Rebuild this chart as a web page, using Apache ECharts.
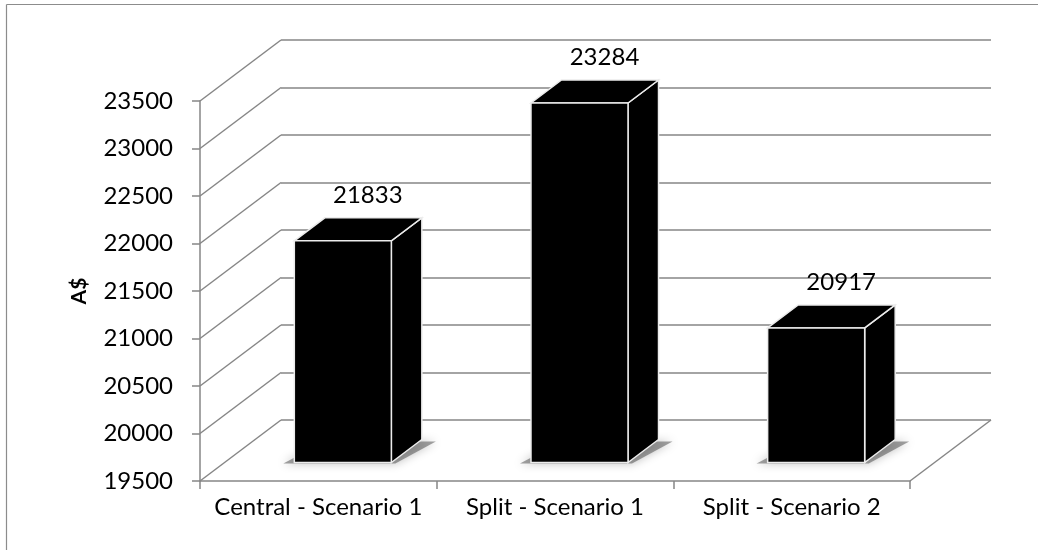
<!DOCTYPE html>
<html><head><meta charset="utf-8">
<script src="https://cdn.jsdelivr.net/npm/echarts@6/dist/echarts.min.js"></script>
<style>html,body{margin:0;padding:0;background:#fff}#c{width:1038px;height:550px}</style>
</head><body><div id="c"></div>
<script>
const categories = ['Central - Scenario 1', 'Split - Scenario 1', 'Split - Scenario 2'];
const values = [21833, 23284, 20917];
const yTicks = [19500, 20000, 20500, 21000, 21500, 22000, 22500, 23000, 23500];
const yAxisTitle = 'A$';

const FONT = 'Lato';
const GRID_COLOR = '#868686';
const WALL_DX = 81, WALL_DY = -61;
const yMin = yTicks[0], yMax = yTicks[yTicks.length - 1], yStep = yTicks[1] - yTicks[0];

const chart = echarts.init(document.getElementById('c'), null, {renderer: 'canvas'});

const option = {
  backgroundColor: '#fff',
  animation: false,
  graphic: [
    {type: 'line', shape: {x1: 6.5, y1: 4.5, x2: 1040, y2: 4.5}, style: {stroke: '#8c8c8c', lineWidth: 1.2}},
    {type: 'line', shape: {x1: 6.5, y1: 4.5, x2: 6.5, y2: 560}, style: {stroke: '#8c8c8c', lineWidth: 1.2}}
  ],
  grid: [
    {left: 200, right: 128, top: 101, bottom: 69},
    {left: 281, right: 47, top: 40, bottom: 130}
  ],
  xAxis: [
    {
      gridIndex: 0, type: 'category', data: categories,
      axisLine: {lineStyle: {color: GRID_COLOR, width: 1.5}},
      axisTick: {show: true, interval: 0, length: 8, lineStyle: {color: GRID_COLOR, width: 1.5}},
      axisLabel: {color: '#000', fontFamily: FONT, fontSize: 24, margin: 14, interval: 0, hideOverlap: false}
    },
    {gridIndex: 1, type: 'category', data: categories, show: false}
  ],
  yAxis: [
    {
      gridIndex: 0, type: 'value', min: yMin, max: yMax, interval: yStep,
      name: yAxisTitle, nameLocation: 'middle', nameGap: 110, nameRotate: 90,
      nameTextStyle: {color: '#000', fontFamily: FONT, fontSize: 21, fontWeight: 'bold'},
      axisLine: {show: true, lineStyle: {color: GRID_COLOR, width: 1.5}},
      axisTick: {show: true, length: 8, lineStyle: {color: GRID_COLOR, width: 1.5}},
      axisLabel: {color: '#000', fontFamily: FONT, fontSize: 24, margin: 27, formatter: v => String(v)},
      splitLine: {show: false}
    },
    {
      gridIndex: 1, type: 'value', min: yMin, max: yMax, interval: yStep,
      axisLine: {show: false}, axisTick: {show: false}, axisLabel: {show: false},
      splitLine: {show: true, lineStyle: {color: GRID_COLOR, width: 1.5}}
    }
  ],
  series: [
    {
      type: 'custom', xAxisIndex: 0, yAxisIndex: 0, z: 1, silent: true,
      data: yTicks.map(v => [0, v]),
      renderItem(params, api) {
        const cs = params.coordSys;
        const y = api.coord([0, api.value(1)])[1];
        const children = [{
          type: 'line',
          shape: {x1: cs.x, y1: y, x2: cs.x + WALL_DX, y2: y + WALL_DY},
          style: {stroke: GRID_COLOR, lineWidth: 1.5}
        }];
        if (params.dataIndex === 0) {
          children.push({
            type: 'line',
            shape: {x1: cs.x + cs.width, y1: y, x2: cs.x + cs.width + WALL_DX, y2: y + WALL_DY},
            style: {stroke: GRID_COLOR, lineWidth: 1.5}
          });
        }
        return {type: 'group', children};
      }
    },
    {
      type: 'custom', xAxisIndex: 0, yAxisIndex: 0, z: 3, silent: true,
      data: values.map((v, i) => [i, v]),
      renderItem(params, api) {
        const i = api.value(0), v = api.value(1);
        const base = api.coord([i, yMin]);
        const top = api.coord([i, v]);
        const bw = api.size([1, 0])[0] * 0.41;
        const ox = 24.5, oy = -18.5, dx = 30.5, dy = -23;
        const cx = base[0] + ox;
        const xl = cx - bw / 2, xr = cx + bw / 2;
        const yb = base[1] + oy, yt = top[1] + oy;
        const edge = '#ececec';
        return {
          type: 'group',
          children: [
            {
              type: 'polygon',
              shape: {points: [[xl - 11, yb + 1], [xr + 4, yb + 1], [xr + dx + 14, yb + dy + 2], [xl + dx, yb + dy + 2]]},
              style: {fill: 'rgba(70,70,70,0.5)', shadowBlur: 10, shadowColor: 'rgba(0,0,0,0.5)'}
            },
            {
              type: 'polygon',
              shape: {points: [[xr, yt], [xr + dx, yt + dy], [xr + dx, yb + dy], [xr, yb]]},
              style: {fill: '#000', stroke: edge, lineWidth: 1.5}
            },
            {
              type: 'polygon',
              shape: {points: [[xl, yt], [xl + dx, yt + dy], [xr + dx, yt + dy], [xr, yt]]},
              style: {fill: '#000', stroke: edge, lineWidth: 1.5}
            },
            {
              type: 'rect',
              shape: {x: xl, y: yt, width: bw, height: yb - yt},
              style: {fill: '#000', stroke: edge, lineWidth: 1.5}
            },
            {
              type: 'text',
              x: cx + 25, y: yt - 46,
              style: {text: String(v), fill: '#000', font: '24px ' + FONT, align: 'center', verticalAlign: 'middle'}
            }
          ]
        };
      }
    }
  ]
};
chart.setOption(option);
</script>
</body></html>
